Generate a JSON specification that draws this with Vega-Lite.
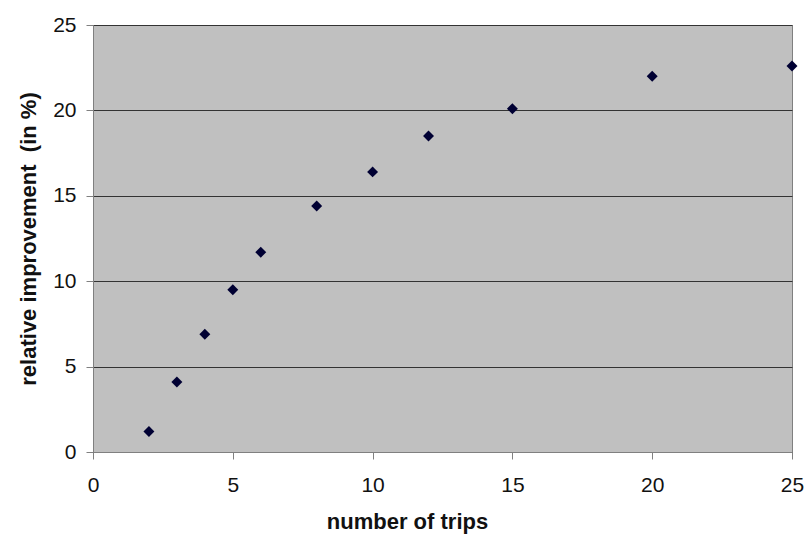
{
  "$schema": "https://vega.github.io/schema/vega-lite/v6.json",
  "width": 699,
  "height": 427,
  "autosize": {"type": "none"},
  "padding": {"left": 93, "top": 25, "right": 16, "bottom": 94},
  "background": "white",
  "config": {
    "view": {"fill": "#c0c0c0", "stroke": "#808080", "strokeWidth": 1},
    "font": "Liberation Sans"
  },
  "data": {
    "values": [
      {"trips": 2, "improvement": 1.2},
      {"trips": 3, "improvement": 4.1},
      {"trips": 4, "improvement": 6.9},
      {"trips": 5, "improvement": 9.5},
      {"trips": 6, "improvement": 11.7},
      {"trips": 8, "improvement": 14.4},
      {"trips": 10, "improvement": 16.4},
      {"trips": 12, "improvement": 18.5},
      {"trips": 15, "improvement": 20.1},
      {"trips": 20, "improvement": 22.0},
      {"trips": 25, "improvement": 22.6}
    ]
  },
  "mark": {"type": "point", "shape": "diamond", "filled": true, "size": 120, "color": "#000033", "opacity": 1},
  "encoding": {
    "x": {
      "field": "trips",
      "type": "quantitative",
      "scale": {"domain": [0, 25], "nice": false, "zero": true},
      "axis": {
        "title": "number of trips",
        "titleFontSize": 22,
        "titleFontWeight": "bold",
        "titleColor": "#111",
        "titlePadding": 16,
        "titleX": 314,
        "titleAlign": "center",
        "values": [0, 5, 10, 15, 20, 25],
        "labelFontSize": 21,
        "labelColor": "#111",
        "labelPadding": 15,
        "labelFlush": false,
        "grid": false,
        "domain": true,
        "domainColor": "#808080",
        "ticks": true,
        "tickColor": "#808080",
        "tickSize": 7
      }
    },
    "y": {
      "field": "improvement",
      "type": "quantitative",
      "scale": {"domain": [0, 25], "nice": false},
      "axis": {
        "title": "relative improvement\u00a0\u00a0(in %)",
        "titleFontSize": 22,
        "titleFontWeight": "bold",
        "titleColor": "#111",
        "titlePadding": 12,
        "values": [0, 5, 10, 15, 20, 25],
        "labelFontSize": 21,
        "labelColor": "#111",
        "labelPadding": 10,
        "labelFlush": false,
        "grid": true,
        "gridColor": "#333333",
        "gridWidth": 1,
        "domain": true,
        "domainColor": "#808080",
        "ticks": true,
        "tickColor": "#808080",
        "tickSize": 7
      }
    }
  }
}
